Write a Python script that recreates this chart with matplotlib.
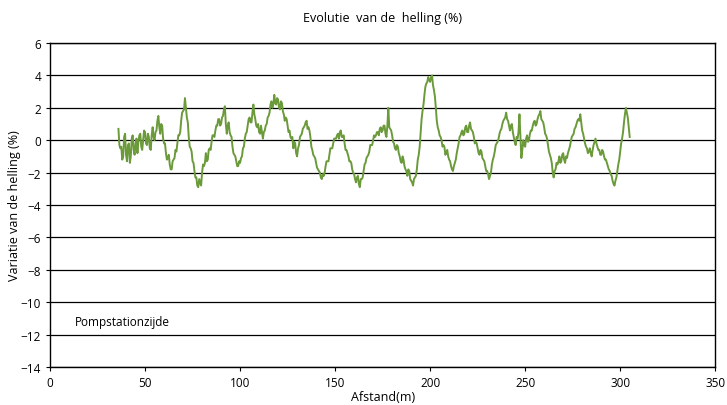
import numpy as np
import matplotlib
matplotlib.use("Agg")
import matplotlib.pyplot as plt

# Slope variation (%), one reading per metre from 36 m
afstand_start = 36
helling = [
    0.7, -0.5, -1.2, 0.2, -0.9, -0.3, -1.4, 0.1, -0.6, -0.2,
    -0.8, 0.3, -0.4, 0.0, 0.5, -0.3, 0.2, -0.6, 0.8, 0.0,
    0.6, 1.5, 0.4, 0.9, -0.2, -0.8, -1.1, -1.5, -1.8, -1.2,
    -0.6, -0.2, 0.3, 1.2, 1.8, 2.6, 1.4, 0.2, -0.5, -1.3,
    -1.9, -2.3, -2.9, -2.6, -2.0, -1.6, -0.8, -1.2, -0.5, -0.1,
    0.3, 0.6, 0.9, 1.3, 1.0, 1.5, 2.1, 0.4, 1.1, 0.3,
    -0.4, -0.9, -1.3, -1.6, -1.4, -1.0, -0.4, 0.4, 0.9, 1.4,
    1.1, 2.2, 1.3, 0.8, 0.5, 0.9, 0.1, 0.6, 1.0, 1.5,
    2.2, 2.0, 2.8, 2.2, 2.5, 1.9, 2.3, 1.6, 1.4, 0.9,
    0.6, 0.1, -0.5, -0.2, -1.0, -0.3, 0.3, 0.7, 0.9, 1.2,
    0.8, 0.2, -0.6, -1.0, -1.4, -1.8, -2.0, -2.4, -2.2, -1.6,
    -1.3, -0.9, -0.5, -0.2, 0.1, 0.3, 0.1, 0.6, 0.2, -0.2,
    -0.6, -1.0, -1.3, -1.8, -2.1, -2.6, -2.2, -2.9, -2.4, -1.9,
    -1.4, -1.0, -0.7, -0.3, 0.0, 0.2, 0.5, 0.3, 0.8, 0.6,
    0.9, 0.2, 2.0, 0.7, 0.3, -0.2, -0.6, -0.4, -1.0, -1.4,
    -1.2, -1.8, -2.2, -1.9, -2.5, -2.8, -2.3, -1.8, -0.9, 0.5,
    1.8, 2.8, 3.5, 3.9, 3.6, 4.0, 3.1, 2.0, 0.8, 0.3,
    0.0, -0.3, -0.9, -0.6, -1.2, -1.6, -1.9, -1.4, -0.8, -0.2,
    0.3, 0.6, 0.4, 0.9, 0.5, 1.1, 0.6, 0.2, -0.1, -0.5,
    -0.9, -0.7, -1.2, -1.6, -1.9, -2.4, -2.0, -1.2, -0.7, -0.2,
    0.1, 0.6, 1.0, 1.3, 1.7, 1.2, 0.6, 1.0, 0.2, -0.3,
    0.1, 1.6, -1.1, 0.0, -0.4, 0.3, 0.0, 0.6, 0.9, 1.2,
    1.0, 1.5, 1.8, 1.2, 0.8, 0.3, -0.3, -0.9, -1.4, -2.3,
    -1.8, -1.5, -1.0, -1.3, -0.8, -1.4, -1.1, -0.6, -0.1, 0.3,
    0.7, 1.0, 1.3, 1.6, 0.6, 0.1, -0.4, -0.8, -0.5, -1.0,
    -0.3, 0.1, -0.4, -0.6, -0.9, -0.7, -1.2, -1.4, -1.8, -2.1,
    -2.5, -2.8, -2.3, -1.5, -0.7, 0.1, 1.1, 2.0, 1.4, 0.2,
]
# readings half a metre further on (36.5 m, 37.5 m, ...)
helling_half = [
    -0.3, -0.4, -1.0, 0.4, -1.3, -0.2, -1.0, 0.3, -0.9, 0.1,
    -0.1, 0.4, -0.6, 0.6, -0.2, 0.4, -0.5, 0.3, 0.2, 0.5,
    1.2, 0.8, 1.0, 0.1, -0.2, -1.2, -0.9, -1.8, -1.3, -1.1,
    -0.7, 0.3, 0.5, 1.7, 1.9, 2.0, 1.1, -0.4, -0.7, -1.4,
    -2.3, -2.8, -2.4, -2.8, -1.5, -1.4, -1.3, -0.6, -0.6, 0.3,
    0.2, 0.9, 1.3, 0.9, 1.4, 1.9, 1.0, 0.9, 0.5, 0.2,
    -0.8, -1.0, -1.6, -1.3, -1.1, -0.5, 0.1, 0.5, 1.3, 1.1,
    1.7, 1.6, 0.9, 1.0, 0.4, 0.5, 0.5, 0.9, 1.4, 1.7,
    2.4, 2.2, 2.3, 2.6, 2.0, 2.4, 1.8, 1.2, 1.3, 0.5,
    0.2, 0.2, -0.1, -0.8, -0.5, 0.2, 0.4, 0.8, 1.1, 0.7,
    0.6, -0.4, -0.9, -1.1, -1.7, -1.9, -2.3, -2.1, -2.0, -1.3,
    -1.3, -0.5, -0.5, 0.1, 0.1, 0.4, 0.5, 0.2, 0.3, -0.6,
    -0.8, -1.3, -1.4, -2.0, -2.4, -2.3, -2.7, -2.4, -2.3, -1.5,
    -1.1, -0.9, -0.3, -0.3, 0.3, 0.3, 0.5, 0.7, 0.5, 0.9,
    0.4, 0.9, 0.8, 0.6, -0.1, -0.5, -0.3, -0.8, -1.3, -1.0,
    -1.6, -1.9, -1.8, -2.4, -2.6, -2.4, -2.2, -1.2, -0.4, 1.3,
    2.2, 3.3, 3.6, 3.7, 3.9, 3.4, 2.7, 1.2, 0.6, 0.2,
    -0.4, -0.4, -0.8, -1.0, -1.3, -1.8, -1.6, -1.2, -0.5, 0.2,
    0.5, 0.3, 0.8, 0.5, 0.9, 0.7, 0.5, -0.2, -0.2, -0.8,
    -0.6, -1.1, -1.3, -1.9, -2.1, -2.2, -1.5, -1.0, -0.3, -0.1,
    0.4, 0.7, 1.2, 1.4, 1.3, 0.9, 0.9, 0.5, -0.1, 0.2,
    0.5, 0.2, -0.6, -0.3, 0.1, -0.1, 0.4, 0.6, 1.1, 0.9,
    1.3, 1.6, 1.3, 1.1, 0.4, 0.1, -0.7, -1.1, -2.0, -1.9,
    -1.4, -1.3, -1.4, -0.9, -1.2, -1.0, -0.8, -0.4, 0.2, 0.4,
    0.8, 1.2, 1.2, 1.1, 0.4, -0.2, -0.5, -0.7, -0.8, -0.6,
    -0.1, -0.2, -0.6, -0.9, -0.6, -1.0, -1.2, -1.6, -1.9, -2.2,
    -2.7, -2.5, -1.9, -1.2, -0.2, 0.5, 1.6, 1.7, 0.8,
]

y_ticks = np.arange(-14, 7, 2)
x_ticks = np.arange(0, 351, 50)

# interleave whole-metre and half-metre readings
n = len(helling)
afstand = np.empty(2 * n - 1)
waarde = np.empty(2 * n - 1)
afstand[0::2] = afstand_start + np.arange(n)
afstand[1::2] = afstand_start + np.arange(n - 1) + 0.5
waarde[0::2] = helling
waarde[1::2] = helling_half

plt.rcParams['font.family'] = ['Open Sans', 'DejaVu Sans']

fig = plt.figure(figsize=(7.27, 4.06), dpi=100)
ax = fig.add_axes([0.0688, 0.0936, 0.915, 0.798])

ax.plot(afstand, waarde, color='#6b9a3a', lw=1.4)

ax.set_xlim(0, 350)
ax.set_ylim(-14, 6)
ax.set_yticks(y_ticks)
ax.set_xticks(x_ticks)
ax.yaxis.grid(True, color='black', lw=0.9)
ax.set_axisbelow(True)
for sp in ax.spines.values():
    sp.set_color('black')
    sp.set_linewidth(1.0)
ax.tick_params(axis='both', labelsize=8.5, length=3, color='black', width=0.8)

ax.set_title("Evolutie  van de  helling (%)", fontsize=9, pad=16)
ax.set_xlabel("Afstand(m)", fontsize=9, labelpad=1)
ax.set_ylabel("Variatie van de helling (%)", fontsize=9, labelpad=0)
ax.text(13, -11.2, "Pompstationzijde", fontsize=8.5, va='center')

fig.savefig("out.png", dpi=100)
